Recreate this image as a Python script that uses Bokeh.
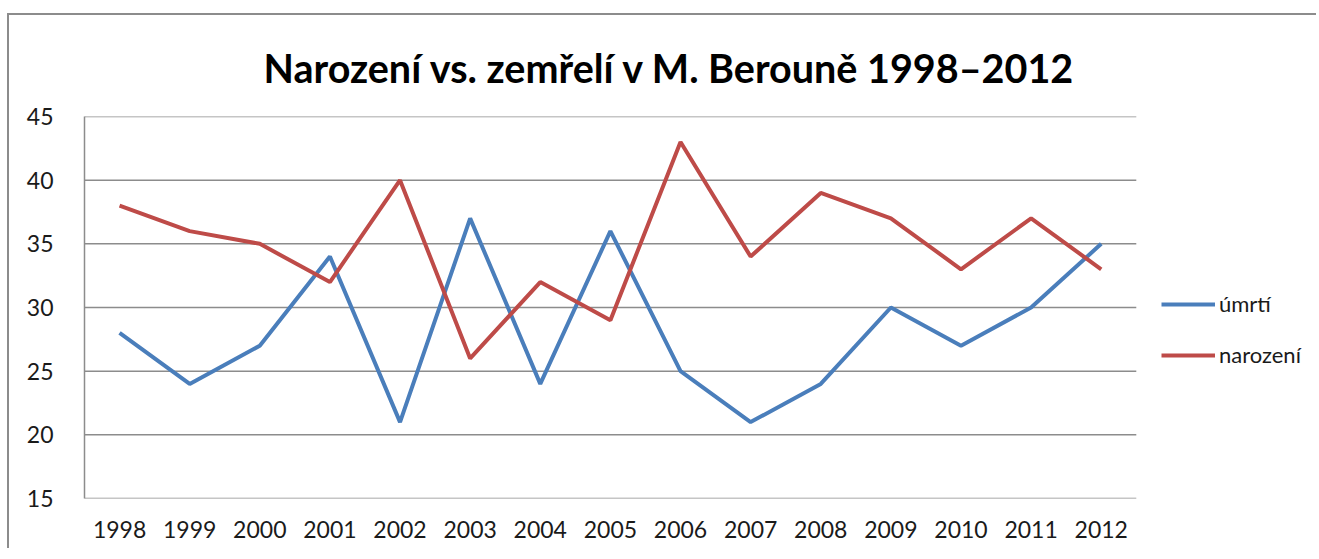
from bokeh.plotting import figure
from bokeh.models import Range1d, Legend, LegendItem, FixedTicker
from bokeh.embed import file_html
from bokeh.resources import INLINE

years = ["1998", "1999", "2000", "2001", "2002", "2003", "2004", "2005",
         "2006", "2007", "2008", "2009", "2010", "2011", "2012"]
umrti = [28, 24, 27, 34, 21, 37, 24, 36, 25, 21, 24, 30, 27, 30, 35]
narozeni = [38, 36, 35, 32, 40, 26, 32, 29, 43, 34, 39, 37, 33, 37, 33]
y_ticks = [15, 20, 25, 30, 35, 40, 45]
title_text = "Narození vs. zemřelí v M. Berouně 1998–2012"

FONT = "Lato"
GRAY = "#8c8c8c"

xs = list(range(len(years)))
x_lo, x_hi = -0.5, len(years) - 0.5

p = figure(frame_width=1232, frame_height=382, output_backend="svg",
           toolbar_location=None,
           x_range=Range1d(x_lo, x_hi + 2.57), y_range=Range1d(15, 45),
           min_border_left=75, min_border_right=0, min_border_top=101,
           min_border_bottom=50)
p.margin = (13, 0, 0, 7)
p.styles = {"border-top": f"2px solid {GRAY}", "border-left": f"2px solid {GRAY}"}
p.outline_line_color = None

p.title.text = title_text
p.title.text_font = FONT
p.title.text_font_style = "bold"
p.title.text_font_size = "39.5px"
p.title.text_color = "#000000"
p.title.align = "left"
p.title.offset = 179
p.title.standoff = 52

p.xgrid.grid_line_color = None
p.ygrid.grid_line_color = None
p.yaxis.ticker = y_ticks
p.xaxis.ticker = FixedTicker(ticks=xs)
p.xaxis.major_label_overrides = {i: y for i, y in zip(xs, years)}

# horizontal grid lines limited to the plotted categories
p.segment(x0=[x_lo] * len(y_ticks), x1=[x_hi] * len(y_ticks), y0=y_ticks, y1=y_ticks,
          line_color=GRAY, line_width=1.5)

for ax in (p.xaxis[0], p.yaxis[0]):
    ax.major_tick_line_color = None
    ax.minor_tick_line_color = None
    ax.major_label_text_font = FONT
    ax.major_label_text_font_size = "23px"
    ax.major_label_text_color = "#1a1a1a"
p.xaxis.axis_line_color = None
p.yaxis.axis_line_color = GRAY
p.yaxis.axis_line_width = 1.5
p.yaxis.major_label_standoff = 25
p.xaxis.major_label_standoff = 16

r1 = p.line(xs, umrti, line_color="#4a7ebb", line_width=4)
r2 = p.line(xs, narozeni, line_color="#be4b48", line_width=4)

legend = Legend(items=[LegendItem(label="úmrtí", renderers=[r1]),
                       LegendItem(label="narození", renderers=[r2])],
                location=(1077, 130), orientation="vertical")
legend.border_line_color = None
legend.background_fill_alpha = 0
legend.padding = 0
legend.margin = 0
legend.spacing = 24
legend.glyph_width = 54
legend.glyph_height = 20
legend.label_height = 20
legend.label_standoff = 4
legend.label_text_font = FONT
legend.label_text_font_size = "22px"
legend.label_text_color = "#1a1a1a"
p.add_layout(legend, "center")

open("out.html", "w").write(file_html(p, INLINE))
